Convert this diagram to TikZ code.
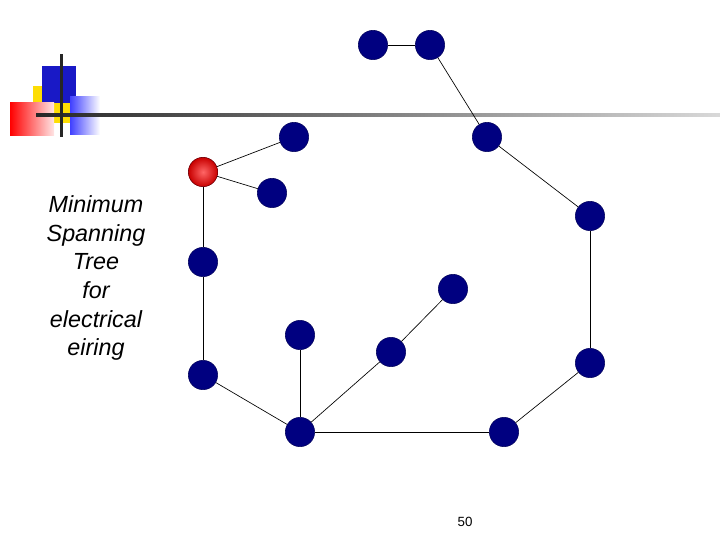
\documentclass[tikz,border=0pt]{standalone}
\usepackage{fontspec}
\setmainfont{Liberation Sans}
\begin{document}
\begin{tikzpicture}[x=0.75pt,y=-0.75pt,
  vert/.style={circle,fill={rgb,255:red,0;green,0;blue,128},draw={rgb,255:red,0;green,0;blue,90},minimum size=22pt,inner sep=0pt},
  root/.style={vert,inner color=red!60!white,outer color={rgb,255:red,200;green,0;blue,0},draw={rgb,255:red,120;green,0;blue,0}},
  edge/.style={draw=black,line width=0.5pt}]
\useasboundingbox (0,0) rectangle (720,540);
% decoration
\fill[yellow!80!orange] (33,86) rectangle (70,123);
\fill[blue!75!black!90] (42,66) rectangle (76,103);
\shade[left color=red, right color=red!10] (10,102) rectangle (54,135);
\shade[left color=blue!75, right color=white] (70,96) rectangle (100,134);
\shade[left color=black!85, right color=black!15] (36,113.5) rectangle (720,116.5);
\fill[black!85] (59.5,54) rectangle (62.5,137);
% nodes
\node[vert] (A) at (373,45) {};
\node[vert] (B) at (430,45) {};
\node[vert] (C) at (487,137) {};
\node[vert] (D) at (590,216) {};
\node[vert] (E) at (590,363) {};
\node[vert] (F) at (504,432) {};
\node[vert] (G) at (300,432) {};
\node[vert] (H) at (203,375) {};
\node[vert] (I) at (203,262) {};
\node[root] (R) at (203,172) {};
\node[vert] (J) at (294,137) {};
\node[vert] (K) at (272,193) {};
\node[vert] (L) at (300,335) {};
\node[vert] (M) at (391,352) {};
\node[vert] (N) at (453,289) {};
\foreach \a/\b in {A/B,B/C,C/D,D/E,E/F,F/G,G/H,H/I,I/R,R/J,R/K,G/L,G/M,M/N}
  \draw[edge] (\a) -- (\b);
\node[align=center,font=\itshape\fontsize{17.5}{21.5}\selectfont] (T) at (96,278) {Minimum\\Spanning\\Tree\\for\\electrical\\eiring};
\node[font=\fontsize{10}{12}\selectfont] (P) at (465,522) {50};
\end{tikzpicture}
\end{document}
